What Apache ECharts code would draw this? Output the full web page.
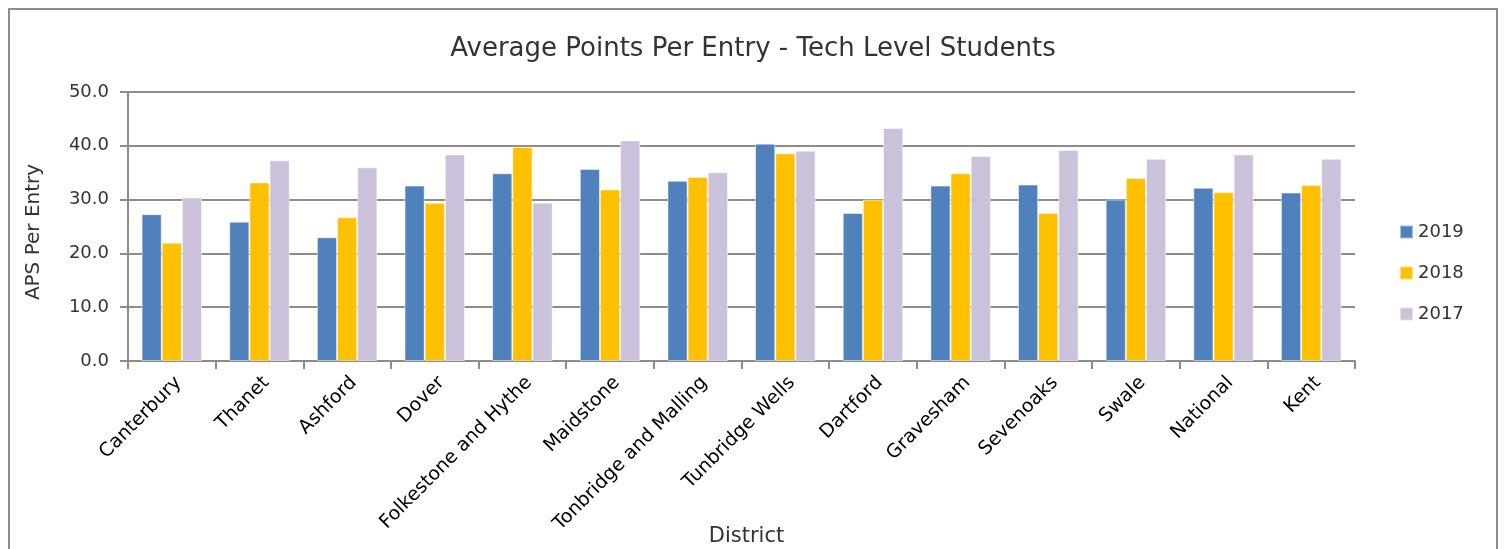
<!DOCTYPE html>
<html>
<head>
<meta charset="utf-8">
<script src="https://cdn.jsdelivr.net/npm/echarts@6/dist/echarts.min.js"></script>
<style>
  html, body { margin: 0; padding: 0; background: #fff; }
  #chart { width: 1506px; height: 549px; }
</style>
</head>
<body>
<div id="chart"></div>
<script>
// Districts along the x axis
const districts = ['Canterbury', 'Thanet', 'Ashford', 'Dover', 'Folkestone and Hythe', 'Maidstone',
  'Tonbridge and Malling', 'Tunbridge Wells', 'Dartford', 'Gravesham', 'Sevenoaks', 'Swale',
  'National', 'Kent'];

// Average points per entry by year
const aps2019 = [27.3, 25.9, 23.0, 32.6, 34.9, 35.7, 33.5, 40.4, 27.5, 32.6, 32.8, 30.0, 32.2, 31.3];
const aps2018 = [22.0, 33.2, 26.7, 29.4, 39.8, 31.9, 34.2, 38.6, 30.0, 34.9, 27.5, 34.0, 31.4, 32.7];
const aps2017 = [30.4, 37.3, 36.0, 38.4, 29.4, 41.0, 35.1, 39.1, 43.3, 38.1, 39.2, 37.6, 38.4, 37.6];

const seriesNames = ['2019', '2018', '2017'];
const seriesColors = ['#4F81BD', '#FFC000', '#CCC1DA'];
const seriesData = [aps2019, aps2018, aps2017];

const FONT = '"DejaVu Sans", sans-serif';
const GRID = '#8c8c8c';

const chart = echarts.init(document.getElementById('chart'), null, { renderer: 'canvas' });

chart.setOption({
  animation: false,
  textStyle: { fontFamily: FONT },
  title: {
    text: 'Average Points Per Entry - Tech Level Students',
    left: 'center',
    top: 31,
    textStyle: { fontFamily: FONT, fontSize: 26, fontWeight: 'normal', color: '#333' }
  },
  graphic: [{
    type: 'rect',
    shape: { x: 9, y: 9, width: 1488, height: 560 },
    style: { fill: 'none', stroke: '#8c8c8c', lineWidth: 2 },
    silent: true,
    z: -1
  }],
  legend: {
    orient: 'vertical',
    left: 1394,
    top: 218,
    itemWidth: 13,
    itemHeight: 13,
    itemGap: 23,
    icon: 'rect',
    textStyle: { fontFamily: FONT, fontSize: 18, color: '#333' },
    data: seriesNames
  },
  grid: { left: 128, right: 151, top: 92, bottom: 188, containLabel: false, outerBoundsMode: 'none' },
  xAxis: {
    type: 'category',
    data: districts,
    name: 'District',
    nameLocation: 'middle',
    nameGap: 165,
    nameMoveOverlap: false,
    nameTextStyle: { fontFamily: FONT, fontSize: 21, color: '#333', padding: [0, 0, 0, 10] },
    axisLine: { lineStyle: { color: GRID, width: 2 } },
    axisTick: { show: true, alignWithLabel: false, length: 8, lineStyle: { color: GRID, width: 2 } },
    axisLabel: {
      rotate: 45,
      interval: 0,
      margin: 12,
      verticalAlign: 'top',
      fontFamily: FONT,
      fontSize: 19,
      color: '#000'
    }
  },
  yAxis: {
    type: 'value',
    min: 0,
    max: 50,
    interval: 10,
    name: 'APS Per Entry',
    nameLocation: 'middle',
    nameGap: 84,
    nameRotate: 90,
    nameMoveOverlap: false,
    nameTextStyle: { fontFamily: FONT, fontSize: 20, color: '#333', padding: [0, 11, 0, 0] },
    axisLine: { show: true, lineStyle: { color: GRID, width: 2 } },
    axisTick: { show: true, length: 8, lineStyle: { color: GRID, width: 2 } },
    splitLine: { lineStyle: { color: GRID, width: 2 } },
    axisLabel: {
      formatter: v => v.toFixed(1),
      fontFamily: FONT,
      fontSize: 18,
      color: '#333',
      margin: 19
    }
  },
  series: seriesData.map((d, i) => ({
    name: seriesNames[i],
    type: 'bar',
    data: d,
    barGap: '0%',
    barCategoryGap: '31%',
    itemStyle: { color: seriesColors[i], borderColor: 'rgba(255,255,255,0.5)', borderWidth: 1 }
  }))
});
</script>
</body>
</html>
